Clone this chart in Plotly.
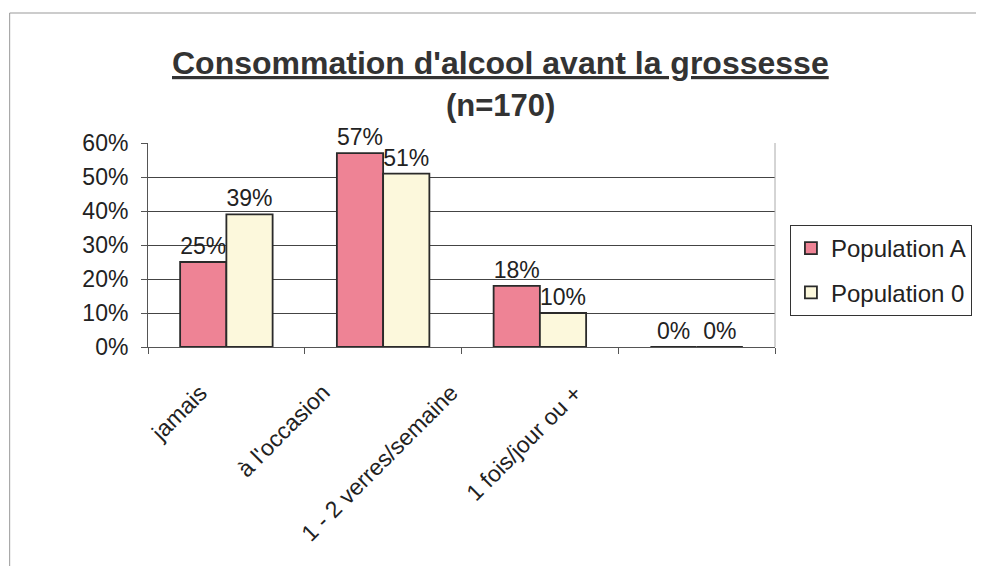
import plotly.graph_objects as go

categories = ["jamais", "à l'occasion", "1 - 2 verres/semaine", "1 fois/jour ou +"]
pop_a = [0.25, 0.57, 0.18, 0.00]
pop_0 = [0.39, 0.51, 0.10, 0.00]
y_ticks = [0, 0.1, 0.2, 0.3, 0.4, 0.5, 0.6]

FONT = "Liberation Sans, Arial, sans-serif"

# the page body has an 8px margin, so the figure is 8px smaller than the window
W, H = 976, 558
L, R, T, B = 140, 206, 135, 219
PW, PH = W - L - R, H - T - B


def px(x):  # figure pixel -> paper x
    return (x - L) / PW


def py(y):  # figure pixel -> paper y
    return (H - B - y) / PH


fig = go.Figure()

fig.add_trace(go.Bar(
    x=categories, y=pop_a, name="Population A", legendgroup="a",
    marker=dict(color="#ee8395", line=dict(color="#2a2a2a", width=1.8)),
    text=[f"{v:.0%}" for v in pop_a], textposition="outside", cliponaxis=False,
    textfont=dict(size=23, color="#222"),
))
fig.add_trace(go.Bar(
    x=categories, y=pop_0, name="Population 0", legendgroup="b",
    marker=dict(color="#fcf8dc", line=dict(color="#2a2a2a", width=1.8)),
    text=[f"{v:.0%}" for v in pop_0], textposition="outside", cliponaxis=False,
    textfont=dict(size=23, color="#222"),
))

# outer frame of the scanned chart
fig.add_shape(type="line", xref="paper", yref="paper",
              x0=px(1), x1=px(W), y0=py(5), y1=py(5),
              line=dict(color="#999", width=1))
fig.add_shape(type="line", xref="paper", yref="paper",
              x0=px(1), x1=px(1), y0=py(5), y1=py(H),
              line=dict(color="#999", width=1))
# right edge of plot area
fig.add_shape(type="line", xref="paper", yref="paper", x0=1, x1=1, y0=0, y1=1,
              line=dict(color="#aaa", width=1))

# title, two lines
fig.add_annotation(xref="paper", yref="paper", x=px(494), y=py(55),
                   text="<b><u>Consommation d'alcool avant la grossesse</u></b>",
                   showarrow=False, xanchor="center", yanchor="middle",
                   font=dict(size=32, family=FONT, color="#333"))
fig.add_annotation(xref="paper", yref="paper", x=px(494), y=py(97),
                   text="<b>(n=170)</b>",
                   showarrow=False, xanchor="center", yanchor="middle",
                   font=dict(size=31, family=FONT, color="#333"))

# rotated category labels, placed like the original (drifting left)
label_shift = [-12, -46, -74, -107]
for cat, dx in zip(categories, label_shift):
    fig.add_annotation(x=cat, y=0, xref="x", yref="y", text=cat,
                       showarrow=False, textangle=-45,
                       xanchor="right", yanchor="top", xshift=dx, yshift=-30,
                       font=dict(size=23, family=FONT, color="#222"))

fig.update_layout(
    width=W, height=H,
    margin=dict(l=L, r=R, t=T, b=B),
    paper_bgcolor="white", plot_bgcolor="white",
    font=dict(family=FONT, color="#222"),
    barmode="group", bargap=0.41, bargroupgap=0,
    showlegend=True,
    legend=dict(
        x=px(785), xanchor="left", y=py(217), yanchor="top",
        bordercolor="#333", borderwidth=1, bgcolor="white",
        font=dict(size=24, family=FONT, color="#222"),
        tracegroupgap=10,
    ),
    xaxis=dict(
        range=[-0.5, 3.5], autorange=False,
        showgrid=False, showline=True, linecolor="#555", linewidth=1,
        ticks="outside", tickson="boundaries", ticklen=6, tickcolor="#555",
        showticklabels=False,
    ),
    yaxis=dict(
        range=[0, 0.6], tickvals=y_ticks, tickformat=".0%",
        showgrid=True, gridcolor="#444", gridwidth=1,
        showline=True, linecolor="#555", linewidth=1,
        ticks="outside", ticklen=6, tickcolor="#555",
        ticklabelstandoff=8,
        zeroline=False,
        tickfont=dict(size=23, family=FONT, color="#222"),
    ),
)

fig.write_html("out.html")
